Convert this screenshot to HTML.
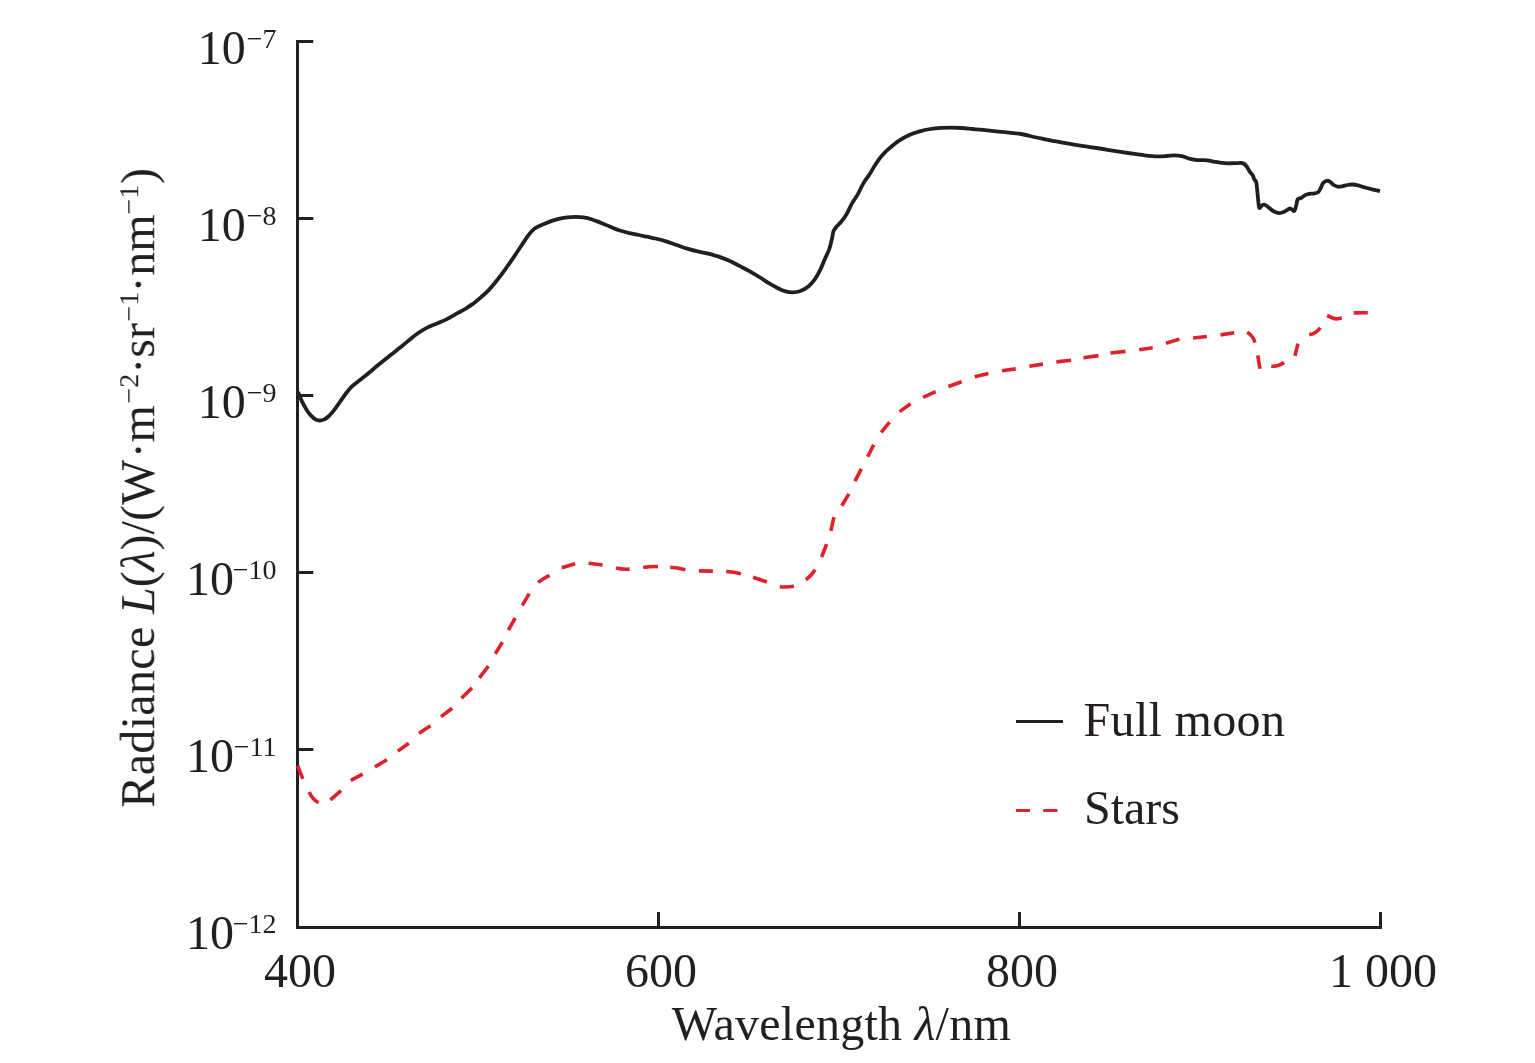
<!DOCTYPE html>
<html><head><meta charset="utf-8"><title>Radiance</title>
<style>html,body{margin:0;padding:0;background:#fff;}body{width:1535px;height:1063px;overflow:hidden;font-family:"Liberation Serif",serif;}svg{display:block;will-change:transform;}</style>
</head><body>
<svg width="1535" height="1063" viewBox="0 0 1535 1063">
<rect width="1535" height="1063" fill="#fff"/>
<g stroke="#231f20" stroke-width="3" fill="none">
<path d="M297.5 40 V927.5 H1382"/>
<path d="M297.5 41.5 H313.3"/>
<path d="M297.5 218.5 H313.3"/>
<path d="M297.5 395.5 H313.3"/>
<path d="M297.5 572.5 H313.3"/>
<path d="M297.5 749.5 H313.3"/>
<path d="M658.5 927.5 V912"/>
<path d="M1019.5 927.5 V912"/>
<path d="M1380.5 927.5 V912"/>
</g>
<path d="M298.0 392.0C298.7 393.6 300.7 398.6 302.1 401.6C303.6 404.6 305.2 407.5 306.7 409.9C308.2 412.3 309.8 414.3 311.3 415.9C312.8 417.5 314.5 418.8 315.9 419.6C317.3 420.4 318.2 420.5 319.5 420.5C320.8 420.5 322.3 420.3 323.8 419.6C325.3 418.9 326.8 418.0 328.4 416.5C330.0 415.0 331.7 413.1 333.7 410.6C335.7 408.1 338.1 404.5 340.3 401.4C342.5 398.3 344.9 394.7 346.9 392.2C348.9 389.7 350.2 388.1 352.2 386.2C354.2 384.3 356.3 382.9 358.7 381.0C361.1 379.1 363.5 377.3 366.6 374.8C369.7 372.3 373.2 369.1 377.2 365.8C381.1 362.6 385.9 358.8 390.3 355.3C394.7 351.8 400.0 347.7 403.5 344.8C407.0 341.9 408.8 340.3 411.4 338.2C414.0 336.1 416.7 334.1 419.3 332.3C421.9 330.5 424.4 329.0 427.2 327.6C430.0 326.2 433.1 325.1 436.4 323.7C439.7 322.3 443.4 320.9 446.9 319.1C450.4 317.4 454.5 314.9 457.5 313.2C460.5 311.5 462.4 310.6 465.0 309.0C467.6 307.4 470.3 305.8 472.9 303.9C475.5 301.9 478.2 299.6 480.8 297.3C483.4 295.0 486.1 292.9 488.7 290.1C491.3 287.4 494.0 284.1 496.6 280.8C499.2 277.5 501.9 273.9 504.5 270.3C507.1 266.7 509.8 262.9 512.4 259.1C515.0 255.3 517.9 250.9 520.3 247.3C522.7 243.7 524.9 240.2 526.9 237.4C528.9 234.7 530.4 232.6 532.1 230.8C533.9 229.1 535.4 228.0 537.4 226.9C539.4 225.8 541.6 225.0 544.0 224.0C546.4 223.0 549.3 221.8 551.9 220.9C554.5 220.0 557.2 219.2 559.8 218.6C562.4 218.0 565.1 217.6 567.7 217.3C570.3 217.0 573.0 216.9 575.6 216.9C578.2 216.9 580.9 217.0 583.5 217.4C586.1 217.8 588.5 218.3 591.4 219.2C594.2 220.1 597.5 221.5 600.6 222.7C603.7 223.9 606.7 225.3 609.8 226.6C612.9 227.8 615.9 229.2 619.0 230.2C622.1 231.2 625.0 232.0 628.3 232.8C631.6 233.6 635.7 234.3 638.8 235.0C641.9 235.7 644.2 236.1 647.0 236.7C649.8 237.3 652.3 237.7 655.5 238.5C658.7 239.3 662.6 240.3 666.1 241.4C669.6 242.5 673.1 243.8 676.6 245.0C680.1 246.2 683.6 247.5 687.1 248.6C690.6 249.7 694.2 250.6 697.7 251.4C701.2 252.2 704.7 252.7 708.2 253.6C711.7 254.5 715.2 255.4 718.7 256.6C722.2 257.8 725.8 259.2 729.3 260.8C732.8 262.4 736.3 264.3 739.8 266.1C743.3 267.9 746.8 269.6 750.3 271.6C753.8 273.6 757.6 275.9 760.9 278.0C764.2 280.1 767.2 282.2 770.1 283.9C773.0 285.6 775.6 287.0 778.0 288.2C780.4 289.4 782.2 290.4 784.6 291.1C787.0 291.8 789.9 292.4 792.5 292.4C795.1 292.4 797.8 292.1 800.4 291.1C803.0 290.1 805.9 288.5 808.3 286.5C810.7 284.5 812.8 282.0 814.8 279.3C816.8 276.6 818.5 273.4 820.1 270.1C821.8 266.8 823.2 263.0 824.7 259.5C826.2 256.0 828.1 252.5 829.3 249.0C830.5 245.5 831.3 241.5 832.0 238.5C832.7 235.5 832.8 233.1 833.5 231.2C834.2 229.3 834.8 228.8 836.1 227.2C837.4 225.6 839.6 223.7 841.4 221.5C843.2 219.3 844.9 216.9 846.7 213.9C848.5 210.9 850.1 206.7 852.0 203.4C853.9 200.1 856.0 197.4 857.9 194.1C859.8 190.8 861.3 186.8 863.2 183.6C865.1 180.4 867.1 178.1 869.1 175.0C871.1 171.9 872.9 168.4 875.0 165.2C877.1 162.0 879.2 158.8 881.6 156.0C884.0 153.2 886.6 150.6 889.5 148.1C892.4 145.6 895.4 143.0 898.7 140.8C902.0 138.6 905.8 136.5 909.3 134.9C912.8 133.3 916.3 132.3 919.8 131.3C923.3 130.3 926.8 129.6 930.3 129.0C933.8 128.4 937.4 128.1 940.9 127.9C944.4 127.7 947.9 127.6 951.4 127.6C954.9 127.6 958.4 127.8 961.9 128.0C965.4 128.2 969.0 128.7 972.5 129.0C976.0 129.3 979.0 129.5 983.0 129.9C987.0 130.3 992.2 130.9 996.2 131.3C1000.2 131.7 1002.9 132.0 1007.0 132.4C1011.1 132.8 1015.9 133.2 1020.8 134.0C1025.7 134.8 1031.3 136.4 1036.6 137.5C1041.9 138.6 1047.1 139.8 1052.4 140.8C1057.7 141.8 1062.9 142.8 1068.2 143.7C1073.5 144.6 1078.7 145.3 1084.0 146.1C1089.3 146.9 1094.5 147.7 1099.8 148.5C1105.1 149.3 1110.3 150.3 1115.6 151.1C1120.9 151.9 1126.6 152.8 1131.4 153.5C1136.2 154.2 1140.2 154.8 1144.6 155.3C1149.0 155.8 1154.0 156.3 1157.7 156.4C1161.4 156.5 1164.2 156.2 1167.0 156.0C1169.8 155.8 1172.3 155.4 1174.8 155.4C1177.3 155.4 1179.7 155.7 1182.1 156.2C1184.5 156.7 1186.8 157.9 1189.3 158.6C1191.8 159.2 1194.3 159.8 1197.2 160.1C1200.1 160.4 1203.6 160.0 1206.7 160.3C1209.8 160.6 1212.8 161.4 1215.8 161.9C1218.8 162.4 1222.0 163.0 1225.0 163.2C1228.0 163.4 1231.4 163.2 1234.1 163.2C1236.8 163.2 1239.6 162.8 1241.3 163.0C1243.0 163.2 1243.5 163.4 1244.5 164.1C1245.5 164.8 1246.2 165.8 1247.1 167.1C1248.0 168.4 1248.8 170.4 1249.7 171.7C1250.6 173.0 1251.8 173.7 1252.6 175.0C1253.4 176.3 1253.7 178.3 1254.3 179.5C1254.9 180.7 1255.7 180.2 1256.2 182.1C1256.7 184.0 1257.0 188.1 1257.3 191.2C1257.6 194.2 1257.9 197.6 1258.2 200.4C1258.5 203.2 1258.6 207.1 1259.2 207.9C1259.8 208.7 1261.2 205.7 1262.1 205.2C1263.0 204.7 1263.7 204.4 1264.7 204.7C1265.7 205.0 1266.8 206.0 1268.0 206.9C1269.2 207.8 1270.6 209.2 1271.9 210.1C1273.2 211.0 1274.5 211.8 1275.8 212.3C1277.1 212.8 1278.4 213.1 1279.7 213.1C1281.0 213.1 1282.4 212.6 1283.6 212.1C1284.8 211.6 1285.9 210.7 1286.9 210.1C1288.0 209.5 1289.0 208.5 1289.9 208.4C1290.8 208.3 1291.4 209.3 1292.1 209.7C1292.8 210.1 1293.5 211.2 1294.0 211.0C1294.5 210.8 1294.9 210.0 1295.3 208.8C1295.7 207.6 1296.2 205.2 1296.6 203.6C1297.0 202.0 1297.1 200.0 1297.9 199.1C1298.7 198.2 1300.0 198.7 1301.2 198.0C1302.4 197.3 1303.8 195.8 1305.1 195.1C1306.4 194.4 1307.6 194.1 1309.0 193.8C1310.4 193.6 1312.1 193.8 1313.6 193.6C1315.1 193.3 1316.9 193.2 1318.1 192.3C1319.3 191.4 1319.8 189.6 1320.7 188.0C1321.6 186.4 1322.3 184.0 1323.3 182.8C1324.3 181.6 1325.5 181.0 1326.6 180.8C1327.7 180.6 1328.7 181.0 1329.9 181.7C1331.1 182.4 1332.5 184.2 1333.8 185.0C1335.1 185.8 1336.3 186.5 1337.7 186.7C1339.1 186.9 1340.6 186.6 1342.2 186.3C1343.8 186.0 1345.7 185.3 1347.4 185.0C1349.2 184.7 1351.0 184.4 1352.7 184.5C1354.5 184.6 1356.0 184.9 1357.9 185.4C1359.9 185.9 1362.0 186.7 1364.4 187.3C1366.8 188.0 1369.6 188.7 1372.2 189.3C1374.8 190.0 1378.7 190.9 1380.0 191.2" fill="none" stroke="#231f20" stroke-width="3.8" stroke-linejoin="round" stroke-linecap="butt"/>
<path d="M297.6 765.6L302.8 778.8M309.1 791.9Q312.8 799.7 318.6 802.7M330.4 799.8L341.0 790.6M350.8 780.3L362.7 774.1M374.9 766.9L387.0 759.7M397.8 751.1L408.8 743.2M419.0 733.3L430.5 725.8M441.0 716.6L452.2 708.3M461.4 698.2L472.0 687.9M479.4 677.9L488.4 666.2M495.3 653.8L502.4 642.1M508.4 630.1L515.2 618.0M522.3 605.4L529.2 593.6M538.1 582.4Q543.2 578.4 549.5 575.3M561.8 567.8L575.1 563.8M588.6 563.2L602.5 565.0M616.0 568.1Q622.8 569.6 629.6 569.1M643.2 567.6Q651.0 566.1 658.0 566.6M670.2 567.2Q676.5 567.5 685.3 569.8M698.9 570.9L712.9 571.1M726.2 571.5Q733.8 571.8 741.0 573.7M753.1 577.2L766.9 582.0M779.8 586.7Q786.0 587.3 793.9 586.3M805.9 579.7Q811.1 576.2 815.1 569.8M821.6 557.0L826.6 544.2M830.9 530.8L833.9 517.2M841.8 505.7L848.9 493.9M854.9 481.1L861.4 468.8M867.7 456.8L873.7 444.7M881.2 432.4L889.5 422.1M899.6 411.6L910.6 403.8M923.1 397.3L935.7 391.6M948.4 386.5L961.7 381.7M974.7 376.8L988.4 373.5M1001.9 370.8L1015.7 368.9M1029.3 366.3L1043.0 364.1M1056.4 361.9L1071.1 360.2M1083.5 357.8L1098.5 355.6M1110.5 353.0L1125.5 351.4M1139.2 349.8L1152.7 347.7M1166.0 343.3L1179.5 339.1M1193.1 338.0L1206.8 336.5M1220.5 334.9L1234.2 332.8M1247.3 332.1Q1254.4 337.4 1254.7 342.7M1257.8 355.4L1259.9 368.8M1271.3 366.2Q1277.9 366.9 1284.1 362.5M1295.0 355.9L1297.9 343.7M1309.2 334.8Q1316.6 333.1 1320.4 327.7M1327.1 315.5C1328.0 315.9 1330.7 317.3 1332.3 317.9C1333.9 318.5 1334.9 318.9 1336.5 318.9C1338.1 318.9 1340.8 318.2 1341.7 318.1M1353.7 312.9L1367.8 312.7" fill="none" stroke="#e0202b" stroke-width="3.6" stroke-linecap="butt" stroke-linejoin="round"/>
<path d="M1016 721.5 H1063" stroke="#231f20" stroke-width="3"/>
<path d="M1016 810.5 H1030 M1043.2 810.5 H1057.4" stroke="#e0202b" stroke-width="3"/>
<g opacity="0.999" font-family="'Liberation Serif', serif" font-size="48" fill="#231f20">
<text x="197.8" y="63.8">10</text><text x="276.5" y="47.7" font-size="28" text-anchor="end">−7</text>
<text x="197.8" y="240.9">10</text><text x="276.5" y="224.8" font-size="28" text-anchor="end">−8</text>
<text x="197.8" y="417.9">10</text><text x="276.5" y="401.8" font-size="28" text-anchor="end">−9</text>
<text x="186.0" y="595.0">10</text><text x="276.5" y="578.9" font-size="28" text-anchor="end">−10</text>
<text x="186.0" y="772.0">10</text><text x="276.5" y="755.9" font-size="28" text-anchor="end">−11</text>
<text x="186.0" y="949.1">10</text><text x="276.5" y="933.0" font-size="28" text-anchor="end">−12</text>
<text x="300.0" y="986.7" text-anchor="middle">400</text>
<text x="661.0" y="986.7" text-anchor="middle">600</text>
<text x="1022.0" y="986.7" text-anchor="middle">800</text>
<text x="1383.0" y="986.7" text-anchor="middle">1 000</text>
<text x="1083.6" y="735.7" letter-spacing="0.33">Full moon</text>
<text x="1084" y="823.6">Stars</text>
<text x="841.4" y="1040" text-anchor="middle" letter-spacing="0.25">Wavelength <tspan font-style="italic">λ</tspan>/nm</text>
<text transform="translate(154.2 805) rotate(-90)"><tspan x="-2.7" y="0" letter-spacing="0.35">Radiance</tspan><tspan x="191.1" y="0"><tspan font-style="italic">L</tspan>(<tspan font-style="italic">λ</tspan>)/(W</tspan><tspan x="346.8" y="0">·</tspan><tspan x="362.6" y="0">m</tspan><tspan x="401.5" y="-16.3" font-size="28">−2</tspan><tspan x="431.2" y="0">·</tspan><tspan x="447.3" y="0">sr</tspan><tspan x="483.5" y="-16.3" font-size="28">−1</tspan><tspan x="512.5" y="0">·</tspan><tspan x="529.2" y="0">nm</tspan><tspan x="590.5" y="-16.3" font-size="28">−1</tspan><tspan x="621.1" y="0">)</tspan></text>
</g>
</svg>
</body></html>
